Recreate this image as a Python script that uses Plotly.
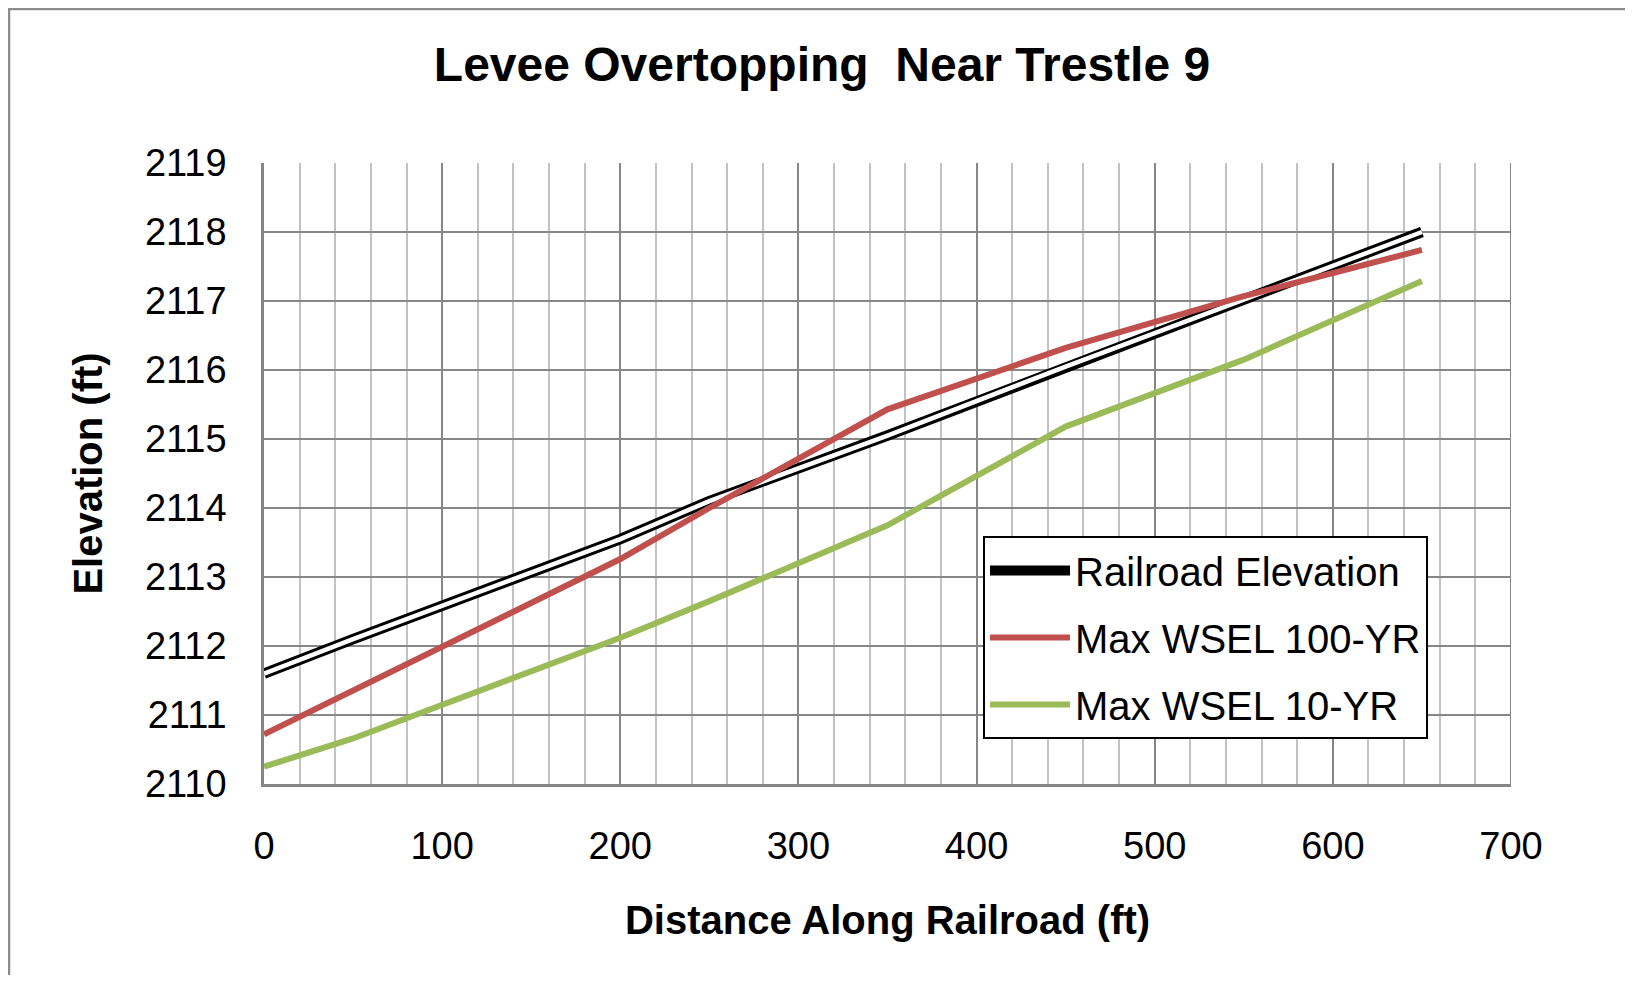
import plotly.graph_objects as go

# ---- data ----
distance_ft = [0, 50, 200, 250, 350, 450, 550, 650]
railroad_elev = [2111.60, 2112.10, 2113.55, 2114.10, 2115.05, 2116.05, 2117.02, 2118.00]
wsel_100yr = [2110.72, 2111.35, 2113.26, 2114.00, 2115.43, 2116.32, 2117.07, 2117.74]
wsel_10yr = [2110.25, 2110.66, 2112.12, 2112.65, 2113.75, 2115.18, 2116.15, 2117.29]

x_ticks = [0, 100, 200, 300, 400, 500, 600, 700]
y_ticks = [2110, 2111, 2112, 2113, 2114, 2115, 2116, 2117, 2118, 2119]

FONT = "Arial, Liberation Sans, sans-serif"

fig = go.Figure()

# Railroad: double line (black outline + white core)
fig.add_trace(go.Scatter(
    x=distance_ft, y=railroad_elev, mode="lines", name="Railroad Elevation",
    line=dict(color="black", width=10.5), legendgroup="a"))
fig.add_trace(go.Scatter(
    x=distance_ft, y=railroad_elev, mode="lines", showlegend=False,
    line=dict(color="white", width=4.5), hoverinfo="skip", legendgroup="a"))
fig.add_trace(go.Scatter(
    x=distance_ft, y=wsel_100yr, mode="lines", name="Max WSEL 100-YR",
    line=dict(color="#C0504D", width=6), legendgroup="b"))
fig.add_trace(go.Scatter(
    x=distance_ft, y=wsel_10yr, mode="lines", name="Max WSEL 10-YR",
    line=dict(color="#9BBB59", width=6), legendgroup="c"))

# page offset of the figure (body margin) = 8 px
OFF = 8
W, H = 1617, 967
# plot area in page pixels
PL, PR, PT, PB = 264, 1511, 163, 784
L, R, T, B = PL - OFF, PR - OFF, PT - OFF, PB - OFF

fig.update_layout(
    width=W, height=H,
    margin=dict(l=L, r=W - R, t=T, b=H - B),
    paper_bgcolor="white", plot_bgcolor="white",
    font=dict(family=FONT, color="black"),
    title=dict(text="<b>Levee Overtopping  Near Trestle 9</b>",
               font=dict(size=48, family=FONT, color="black"),
               x=(822 - OFF) / W, xanchor="center", y=1 - (64 - OFF) / H, yanchor="middle"),
    legend=dict(
        x=(983 - PL) / (PR - PL), y=(PB - 536) / (PB - PT), xanchor="left", yanchor="top",
        bgcolor="white", bordercolor="black", borderwidth=2,
        font=dict(size=40, family=FONT, color="black"),
        itemwidth=80, traceorder="grouped", tracegroupgap=12),
    showlegend=True,
)

fig.update_xaxes(
    range=[0, 700], tickvals=x_ticks, ticktext=[str(v) for v in x_ticks],
    tickfont=dict(size=38, family=FONT, color="black"),
    showgrid=True, gridcolor="#878787", gridwidth=2,
    minor=dict(dtick=20, showgrid=True, gridcolor="#C3C3C3", gridwidth=2, tick0=0),
    showline=True, linecolor="#868686", linewidth=2.5,
    zeroline=False, ticks="", ticklabelstandoff=27,
    title=dict(text="<b>Distance Along Railroad (ft)</b>",
               font=dict(size=40, family=FONT, color="black"), standoff=40),
)
fig.update_yaxes(
    range=[2110, 2119], tickvals=y_ticks, ticktext=[str(v) for v in y_ticks],
    tickfont=dict(size=38, family=FONT, color="black"),
    showgrid=True, gridcolor="#878787", gridwidth=2,
    showline=True, linecolor="#868686", linewidth=2.5,
    zeroline=False, ticks="", ticklabelstandoff=27,
    title=dict(text="<b>Elevation (ft)</b>",
               font=dict(size=40, family=FONT, color="black"), standoff=30),
)

# right plot border at x=700 (gridline-like)
fig.add_shape(type="line", xref="x", yref="paper", x0=700, x1=700, y0=0, y1=1,
              line=dict(color="#878787", width=2), layer="below")

# outer chart frame (top and left edges visible)
px2x = lambda p: (p - OFF - L) / (R - L)
px2y = lambda p: (B - (p - OFF)) / (B - T)
fig.add_shape(type="rect", xref="paper", yref="paper",
              x0=px2x(9), x1=px2x(1800), y0=px2y(9), y1=px2y(1200),
              line=dict(color="#8C8C8C", width=2.5), fillcolor="rgba(0,0,0,0)", layer="below")

fig.write_html("out.html")
